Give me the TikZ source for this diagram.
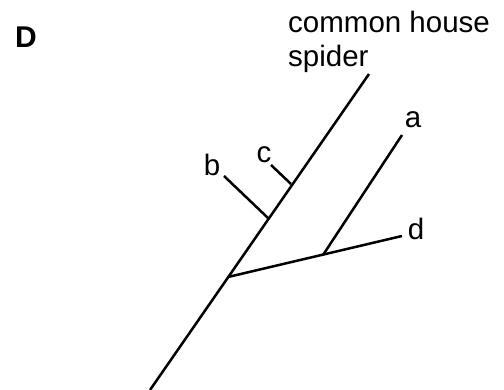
\documentclass[tikz,border=0pt]{standalone}
\usepackage{fontspec}
\setmainfont{Liberation Sans}
\begin{document}
\begin{tikzpicture}[x=1pt,y=-1pt,
  branch/.style={line width=2.5pt,line cap=butt},
  lbl/.style={font=\fontsize{29.5}{35}\selectfont,inner sep=0pt,anchor=base}]
\useasboundingbox (0,0) rectangle (504,390);
% tree points
\coordinate (base) at (150,390);
\coordinate (fork) at (228,277);
\coordinate (bj) at (268,218);
\coordinate (cj) at (291,184);
\coordinate (top) at (369,74);
\coordinate (bend) at (224,176);
\coordinate (cend) at (271,165);
\coordinate (aj) at (323,255);
\coordinate (dend) at (402,236);
\coordinate (aend) at (402,135);
% branches
\draw[branch] (base) -- (top);
\draw[branch] (fork) -- (dend);
\draw[branch] (aj) -- (aend);
\draw[branch] (bj) -- (bend);
\draw[branch] (cj) -- (cend);
% labels
\node[lbl,font=\fontsize{30}{35}\selectfont\bfseries,anchor=base west] (D) at (15,48) {D};
\node[lbl,anchor=base west] (t1) at (288,33) {common house};
\node[lbl,anchor=base west] (t2) at (288,67) {spider};
\node[lbl] (a) at (413,128) {a};
\node[lbl] (d) at (416,240) {d};
\node[lbl] (b) at (212,176) {b};
\node[lbl] (c) at (264,163) {c};
\end{tikzpicture}
\end{document}
